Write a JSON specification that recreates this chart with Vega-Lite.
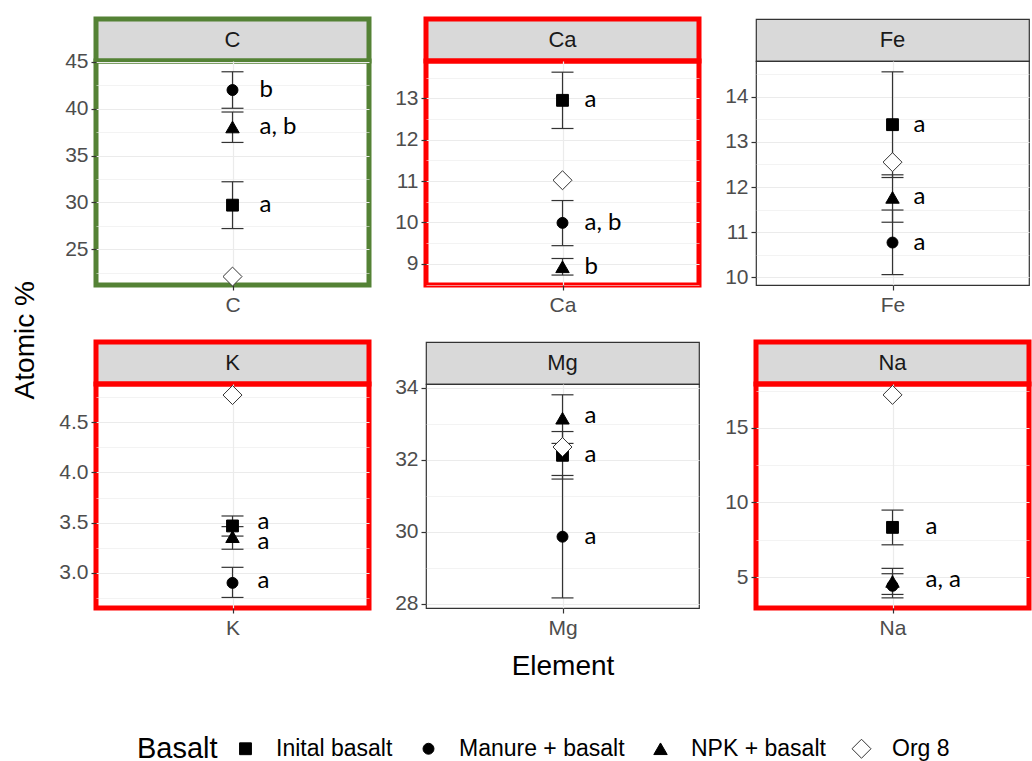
{
  "$schema": "https://vega.github.io/schema/vega-lite/v6.json",
  "padding": {"left": 12, "top": 16, "right": 0, "bottom": 0},
  "background": "white",
  "datasets": {
    "strips": [{"element": "C"}, {"element": "Ca"}, {"element": "Fe"}, {"element": "K"}, {"element": "Mg"}, {"element": "Na"}],
    "pts": [
      {"element": "C", "basalt": "Inital basalt", "mean": 29.7, "lo": 27.2, "hi": 32.2, "label": "a", "label_at": 29.7},
      {"element": "C", "basalt": "Manure + basalt", "mean": 42.0, "lo": 40.05, "hi": 43.95, "label": "b", "label_at": 42.0},
      {"element": "C", "basalt": "NPK + basalt", "mean": 38.05, "lo": 36.4, "hi": 39.65, "label": "a, b", "label_at": 38.05},
      {"element": "C", "basalt": "Org 8", "mean": 22.07, "lo": null, "hi": null, "label": "", "label_at": 22.07},
      {"element": "Ca", "basalt": "Inital basalt", "mean": 12.95, "lo": 12.27, "hi": 13.63, "label": "a", "label_at": 12.95},
      {"element": "Ca", "basalt": "Manure + basalt", "mean": 9.99, "lo": 9.44, "hi": 10.53, "label": "a, b", "label_at": 9.99},
      {"element": "Ca", "basalt": "NPK + basalt", "mean": 8.93, "lo": 8.73, "hi": 9.13, "label": "b", "label_at": 8.93},
      {"element": "Ca", "basalt": "Org 8", "mean": 11.02, "lo": null, "hi": null, "label": "", "label_at": 11.02},
      {"element": "Fe", "basalt": "Inital basalt", "mean": 13.38, "lo": 12.21, "hi": 14.55, "label": "a", "label_at": 13.38},
      {"element": "Fe", "basalt": "Manure + basalt", "mean": 10.77, "lo": 10.06, "hi": 11.49, "label": "a", "label_at": 10.77},
      {"element": "Fe", "basalt": "NPK + basalt", "mean": 11.77, "lo": 11.22, "hi": 12.27, "label": "a", "label_at": 11.77},
      {"element": "Fe", "basalt": "Org 8", "mean": 12.55, "lo": null, "hi": null, "label": "", "label_at": 12.55},
      {"element": "K", "basalt": "Inital basalt", "mean": 3.467, "lo": 3.366, "hi": 3.566, "label": "a", "label_at": 3.51},
      {"element": "K", "basalt": "Manure + basalt", "mean": 2.9, "lo": 2.755, "hi": 3.055, "label": "a", "label_at": 2.92},
      {"element": "K", "basalt": "NPK + basalt", "mean": 3.36, "lo": 3.235, "hi": 3.46, "label": "a", "label_at": 3.31},
      {"element": "K", "basalt": "Org 8", "mean": 4.77, "lo": null, "hi": null, "label": "", "label_at": 4.77},
      {"element": "Mg", "basalt": "Inital basalt", "mean": 32.12, "lo": 31.46, "hi": 32.78, "label": "a", "label_at": 32.12},
      {"element": "Mg", "basalt": "Manure + basalt", "mean": 29.86, "lo": 28.16, "hi": 31.56, "label": "a", "label_at": 29.86},
      {"element": "Mg", "basalt": "NPK + basalt", "mean": 33.15, "lo": 32.45, "hi": 33.8, "label": "a", "label_at": 33.2},
      {"element": "Mg", "basalt": "Org 8", "mean": 32.35, "lo": null, "hi": null, "label": "", "label_at": 32.35},
      {"element": "Na", "basalt": "Inital basalt", "mean": 8.33, "lo": 7.16, "hi": 9.49, "label": "a", "label_at": 8.33},
      {"element": "Na", "basalt": "Manure + basalt", "mean": 4.41, "lo": 3.6, "hi": 5.22, "label": "", "label_at": 4.41},
      {"element": "Na", "basalt": "NPK + basalt", "mean": 4.7, "lo": 3.83, "hi": 5.58, "label": "a, a", "label_at": 4.82},
      {"element": "Na", "basalt": "Org 8", "mean": 17.22, "lo": null, "hi": null, "label": "", "label_at": 17.22}
    ]
  },
  "title": {"text": "Atomic %", "orient": "left", "anchor": "middle", "dx": 50, "fontSize": 28, "fontWeight": "normal", "font": "Liberation Sans", "color": "black", "offset": 16},
  "config": {
    "font": "Liberation Sans",
    "axis": {"labelFont": "Liberation Sans", "labelFontSize": 21, "labelColor": "#4d4d4d", "labelOverlap": false, "tickColor": "#333333", "tickWidth": 1.2, "tickSize": 5, "domain": false, "gridColor": "#ebebeb", "gridWidth": 1.2, "labelPadding": 3, "titleFont": "Liberation Sans", "titleFontSize": 28, "titleFontWeight": "normal", "titleColor": "black"},
    "axisX": {"labelAngle": 0, "grid": true, "title": null, "labelPadding": 4},
    "legend": {"orient": "bottom", "direction": "horizontal", "titleOrient": "left", "titleFont": "Liberation Sans", "titleFontSize": 29, "titleFontWeight": "normal", "titleColor": "black", "labelFont": "Liberation Sans", "labelFontSize": 23, "labelColor": "black", "labelLimit": 400, "labelOffset": 19, "columnPadding": 24, "titlePadding": 16, "offset": 56, "symbolStrokeWidth": 1, "layout": {"bottom": {"anchor": "middle"}}}
  },
  "concat": [
    {
      "vconcat": [
        {"data": {"name": "strips"}, "transform": [{"filter": {"field": "element", "equal": "C"}}], "width": 273, "height": 42,
         "view": {"fill": "#d9d9d9", "stroke": "#548235", "strokeWidth": 5},
         "mark": {"type": "text", "font": "Liberation Sans", "fontSize": 22, "color": "#1a1a1a"},
         "encoding": {"text": {"field": "element", "type": "nominal"}}},
        {"data": {"name": "pts"}, "transform": [{"filter": {"field": "element", "equal": "C"}}], "width": 273, "height": 224,
         "view": {"stroke": "#548235", "strokeWidth": 5},
         "resolve": {"axis": {"y": "independent"}},
         "encoding": {"x": {"field": "element", "type": "nominal", "scale": {"type": "point"}, "title": null}},
         "layer": [
           {"mark": {"type": "rule", "color": "#333333", "strokeWidth": 1.2},
            "encoding": {"y": {"field": "lo", "type": "quantitative", "title": null, "scale": {"domain": [21.17, 45.1], "nice": false, "zero": false},
              "axis": {"orient": "left", "values": [25, 30, 35, 40, 45]}},
             "y2": {"field": "hi"}}},
           {"mark": {"type": "tick", "color": "#333333", "size": 22, "thickness": 1.2, "opacity": 1},
            "encoding": {"y": {"field": "lo", "type": "quantitative", "title": null,
              "axis": {"orient": "right", "values": [22.5, 27.5, 32.5, 37.5, 42.5], "labels": false, "ticks": false, "domain": false, "grid": true, "gridWidth": 0.6}}}},
           {"mark": {"type": "tick", "color": "#333333", "size": 22, "thickness": 1.2, "opacity": 1}, "encoding": {"y": {"field": "hi", "type": "quantitative", "title": null, "axis": null}}},
           {"mark": {"type": "point", "filled": true, "opacity": 1, "strokeWidth": 1},
            "encoding": {"y": {"field": "mean", "type": "quantitative", "title": null, "axis": null},
              "shape": {"field": "basalt", "type": "nominal", "title": "Basalt", "scale": {"domain": ["Inital basalt", "Manure + basalt", "NPK + basalt", "Org 8"], "range": ["square", "circle", "triangle-up", "diamond"]}},
              "fill": {"field": "basalt", "type": "nominal", "title": "Basalt", "scale": {"domain": ["Inital basalt", "Manure + basalt", "NPK + basalt", "Org 8"], "range": ["black", "black", "black", "white"]}},
              "stroke": {"field": "basalt", "type": "nominal", "title": "Basalt", "scale": {"domain": ["Inital basalt", "Manure + basalt", "NPK + basalt", "Org 8"], "range": ["black", "black", "black", "#333333"]}},
              "size": {"field": "basalt", "type": "nominal", "title": "Basalt", "scale": {"type": "ordinal", "domain": ["Inital basalt", "Manure + basalt", "NPK + basalt", "Org 8"], "range": [140, 120, 180, 360]}}}},
           {"mark": {"type": "text", "align": "left", "baseline": "middle", "dx": 27, "font": "Lato", "fontSize": 24, "color": "black"},
            "encoding": {"y": {"field": "label_at", "type": "quantitative", "title": null, "axis": null}, "text": {"field": "label", "type": "nominal"}}}
         ]}
      ],
      "spacing": 0, "bounds": "flush"
    },
    {
      "vconcat": [
        {"data": {"name": "strips"}, "transform": [{"filter": {"field": "element", "equal": "Ca"}}], "width": 273, "height": 42,
         "view": {"fill": "#d9d9d9", "stroke": "#ff0000", "strokeWidth": 5},
         "mark": {"type": "text", "font": "Liberation Sans", "fontSize": 22, "color": "#1a1a1a"},
         "encoding": {"text": {"field": "element", "type": "nominal"}}},
        {"data": {"name": "pts"}, "transform": [{"filter": {"field": "element", "equal": "Ca"}}], "width": 273, "height": 224,
         "view": {"stroke": "#ff0000", "strokeWidth": 5},
         "resolve": {"axis": {"y": "independent"}},
         "encoding": {"x": {"field": "element", "type": "nominal", "scale": {"type": "point"}, "title": null}},
         "layer": [
           {"mark": {"type": "rule", "color": "#333333", "strokeWidth": 1.2},
            "encoding": {"y": {"field": "lo", "type": "quantitative", "title": null, "scale": {"domain": [8.49, 13.9], "nice": false, "zero": false},
              "axis": {"orient": "left", "values": [9, 10, 11, 12, 13]}},
             "y2": {"field": "hi"}}},
           {"mark": {"type": "tick", "color": "#333333", "size": 22, "thickness": 1.2, "opacity": 1},
            "encoding": {"y": {"field": "lo", "type": "quantitative", "title": null,
              "axis": {"orient": "right", "values": [8.5, 9.5, 10.5, 11.5, 12.5, 13.5], "labels": false, "ticks": false, "domain": false, "grid": true, "gridWidth": 0.6}}}},
           {"mark": {"type": "tick", "color": "#333333", "size": 22, "thickness": 1.2, "opacity": 1}, "encoding": {"y": {"field": "hi", "type": "quantitative", "title": null, "axis": null}}},
           {"mark": {"type": "point", "filled": true, "opacity": 1, "strokeWidth": 1},
            "encoding": {"y": {"field": "mean", "type": "quantitative", "title": null, "axis": null},
              "shape": {"field": "basalt", "type": "nominal", "title": "Basalt", "scale": {"domain": ["Inital basalt", "Manure + basalt", "NPK + basalt", "Org 8"], "range": ["square", "circle", "triangle-up", "diamond"]}},
              "fill": {"field": "basalt", "type": "nominal", "title": "Basalt", "scale": {"domain": ["Inital basalt", "Manure + basalt", "NPK + basalt", "Org 8"], "range": ["black", "black", "black", "white"]}},
              "stroke": {"field": "basalt", "type": "nominal", "title": "Basalt", "scale": {"domain": ["Inital basalt", "Manure + basalt", "NPK + basalt", "Org 8"], "range": ["black", "black", "black", "#333333"]}},
              "size": {"field": "basalt", "type": "nominal", "title": "Basalt", "scale": {"type": "ordinal", "domain": ["Inital basalt", "Manure + basalt", "NPK + basalt", "Org 8"], "range": [140, 120, 180, 360]}}}},
           {"mark": {"type": "text", "align": "left", "baseline": "middle", "dx": 22, "font": "Lato", "fontSize": 24, "color": "black"},
            "encoding": {"y": {"field": "label_at", "type": "quantitative", "title": null, "axis": null}, "text": {"field": "label", "type": "nominal"}}}
         ]}
      ],
      "spacing": 0, "bounds": "flush"
    },
    {
      "vconcat": [
        {"data": {"name": "strips"}, "transform": [{"filter": {"field": "element", "equal": "Fe"}}], "width": 273, "height": 42,
         "view": {"fill": "#d9d9d9", "stroke": "#333333", "strokeWidth": 1.2},
         "mark": {"type": "text", "font": "Liberation Sans", "fontSize": 22, "color": "#1a1a1a"},
         "encoding": {"text": {"field": "element", "type": "nominal"}}},
        {"data": {"name": "pts"}, "transform": [{"filter": {"field": "element", "equal": "Fe"}}], "width": 273, "height": 224,
         "view": {"stroke": "#333333", "strokeWidth": 1.2},
         "resolve": {"axis": {"y": "independent"}},
         "encoding": {"x": {"field": "element", "type": "nominal", "scale": {"type": "point"}, "title": null}},
         "layer": [
           {"mark": {"type": "rule", "color": "#333333", "strokeWidth": 1.2},
            "encoding": {"y": {"field": "lo", "type": "quantitative", "title": null, "scale": {"domain": [9.83, 14.79], "nice": false, "zero": false},
              "axis": {"orient": "left", "values": [10, 11, 12, 13, 14]}},
             "y2": {"field": "hi"}}},
           {"mark": {"type": "tick", "color": "#333333", "size": 22, "thickness": 1.2, "opacity": 1},
            "encoding": {"y": {"field": "lo", "type": "quantitative", "title": null,
              "axis": {"orient": "right", "values": [10.5, 11.5, 12.5, 13.5, 14.5], "labels": false, "ticks": false, "domain": false, "grid": true, "gridWidth": 0.6}}}},
           {"mark": {"type": "tick", "color": "#333333", "size": 22, "thickness": 1.2, "opacity": 1}, "encoding": {"y": {"field": "hi", "type": "quantitative", "title": null, "axis": null}}},
           {"mark": {"type": "point", "filled": true, "opacity": 1, "strokeWidth": 1},
            "encoding": {"y": {"field": "mean", "type": "quantitative", "title": null, "axis": null},
              "shape": {"field": "basalt", "type": "nominal", "title": "Basalt", "scale": {"domain": ["Inital basalt", "Manure + basalt", "NPK + basalt", "Org 8"], "range": ["square", "circle", "triangle-up", "diamond"]}},
              "fill": {"field": "basalt", "type": "nominal", "title": "Basalt", "scale": {"domain": ["Inital basalt", "Manure + basalt", "NPK + basalt", "Org 8"], "range": ["black", "black", "black", "white"]}},
              "stroke": {"field": "basalt", "type": "nominal", "title": "Basalt", "scale": {"domain": ["Inital basalt", "Manure + basalt", "NPK + basalt", "Org 8"], "range": ["black", "black", "black", "#333333"]}},
              "size": {"field": "basalt", "type": "nominal", "title": "Basalt", "scale": {"type": "ordinal", "domain": ["Inital basalt", "Manure + basalt", "NPK + basalt", "Org 8"], "range": [140, 120, 180, 360]}}}},
           {"mark": {"type": "text", "align": "left", "baseline": "middle", "dx": 21, "font": "Lato", "fontSize": 24, "color": "black"},
            "encoding": {"y": {"field": "label_at", "type": "quantitative", "title": null, "axis": null}, "text": {"field": "label", "type": "nominal"}}}
         ]}
      ],
      "spacing": 0, "bounds": "flush"
    },
    {
      "vconcat": [
        {"data": {"name": "strips"}, "transform": [{"filter": {"field": "element", "equal": "K"}}], "width": 273, "height": 42,
         "view": {"fill": "#d9d9d9", "stroke": "#ff0000", "strokeWidth": 5},
         "mark": {"type": "text", "font": "Liberation Sans", "fontSize": 22, "color": "#1a1a1a"},
         "encoding": {"text": {"field": "element", "type": "nominal"}}},
        {"data": {"name": "pts"}, "transform": [{"filter": {"field": "element", "equal": "K"}}], "width": 273, "height": 224,
         "view": {"stroke": "#ff0000", "strokeWidth": 5},
         "resolve": {"axis": {"y": "independent"}},
         "encoding": {"x": {"field": "element", "type": "nominal", "scale": {"type": "point"}, "title": null}},
         "layer": [
           {"mark": {"type": "rule", "color": "#333333", "strokeWidth": 1.2},
            "encoding": {"y": {"field": "lo", "type": "quantitative", "title": null, "scale": {"domain": [2.65, 4.88], "nice": false, "zero": false},
              "axis": {"orient": "left", "values": [3, 3.5, 4, 4.5], "format": ".1f"}},
             "y2": {"field": "hi"}}},
           {"mark": {"type": "tick", "color": "#333333", "size": 22, "thickness": 1.2, "opacity": 1},
            "encoding": {"y": {"field": "lo", "type": "quantitative", "title": null,
              "axis": {"orient": "right", "values": [2.75, 3.25, 3.75, 4.25, 4.75], "labels": false, "ticks": false, "domain": false, "grid": true, "gridWidth": 0.6}}}},
           {"mark": {"type": "tick", "color": "#333333", "size": 22, "thickness": 1.2, "opacity": 1}, "encoding": {"y": {"field": "hi", "type": "quantitative", "title": null, "axis": null}}},
           {"mark": {"type": "point", "filled": true, "opacity": 1, "strokeWidth": 1},
            "encoding": {"y": {"field": "mean", "type": "quantitative", "title": null, "axis": null},
              "shape": {"field": "basalt", "type": "nominal", "title": "Basalt", "scale": {"domain": ["Inital basalt", "Manure + basalt", "NPK + basalt", "Org 8"], "range": ["square", "circle", "triangle-up", "diamond"]}},
              "fill": {"field": "basalt", "type": "nominal", "title": "Basalt", "scale": {"domain": ["Inital basalt", "Manure + basalt", "NPK + basalt", "Org 8"], "range": ["black", "black", "black", "white"]}},
              "stroke": {"field": "basalt", "type": "nominal", "title": "Basalt", "scale": {"domain": ["Inital basalt", "Manure + basalt", "NPK + basalt", "Org 8"], "range": ["black", "black", "black", "#333333"]}},
              "size": {"field": "basalt", "type": "nominal", "title": "Basalt", "scale": {"type": "ordinal", "domain": ["Inital basalt", "Manure + basalt", "NPK + basalt", "Org 8"], "range": [140, 120, 180, 360]}}}},
           {"mark": {"type": "text", "align": "left", "baseline": "middle", "dx": 25, "font": "Lato", "fontSize": 24, "color": "black"},
            "encoding": {"y": {"field": "label_at", "type": "quantitative", "title": null, "axis": null}, "text": {"field": "label", "type": "nominal"}}}
         ]}
      ],
      "spacing": 0, "bounds": "flush"
    },
    {
      "vconcat": [
        {"data": {"name": "strips"}, "transform": [{"filter": {"field": "element", "equal": "Mg"}}], "width": 273, "height": 42,
         "view": {"fill": "#d9d9d9", "stroke": "#333333", "strokeWidth": 1.2},
         "mark": {"type": "text", "font": "Liberation Sans", "fontSize": 22, "color": "#1a1a1a"},
         "encoding": {"text": {"field": "element", "type": "nominal"}}},
        {"data": {"name": "pts"}, "transform": [{"filter": {"field": "element", "equal": "Mg"}}], "width": 273, "height": 224,
         "view": {"stroke": "#333333", "strokeWidth": 1.2},
         "resolve": {"axis": {"y": "independent"}},
         "encoding": {"x": {"field": "element", "type": "nominal", "scale": {"type": "point"}, "title": "Element", "axis": {"title": "Element", "titlePadding": 14}}},
         "layer": [
           {"mark": {"type": "rule", "color": "#333333", "strokeWidth": 1.2},
            "encoding": {"y": {"field": "lo", "type": "quantitative", "title": null, "scale": {"domain": [27.88, 34.1], "nice": false, "zero": false},
              "axis": {"orient": "left", "values": [28, 30, 32, 34]}},
             "y2": {"field": "hi"}}},
           {"mark": {"type": "tick", "color": "#333333", "size": 22, "thickness": 1.2, "opacity": 1},
            "encoding": {"y": {"field": "lo", "type": "quantitative", "title": null,
              "axis": {"orient": "right", "values": [29, 31, 33], "labels": false, "ticks": false, "domain": false, "grid": true, "gridWidth": 0.6}}}},
           {"mark": {"type": "tick", "color": "#333333", "size": 22, "thickness": 1.2, "opacity": 1}, "encoding": {"y": {"field": "hi", "type": "quantitative", "title": null, "axis": null}}},
           {"mark": {"type": "point", "filled": true, "opacity": 1, "strokeWidth": 1},
            "encoding": {"y": {"field": "mean", "type": "quantitative", "title": null, "axis": null},
              "shape": {"field": "basalt", "type": "nominal", "title": "Basalt", "scale": {"domain": ["Inital basalt", "Manure + basalt", "NPK + basalt", "Org 8"], "range": ["square", "circle", "triangle-up", "diamond"]}},
              "fill": {"field": "basalt", "type": "nominal", "title": "Basalt", "scale": {"domain": ["Inital basalt", "Manure + basalt", "NPK + basalt", "Org 8"], "range": ["black", "black", "black", "white"]}},
              "stroke": {"field": "basalt", "type": "nominal", "title": "Basalt", "scale": {"domain": ["Inital basalt", "Manure + basalt", "NPK + basalt", "Org 8"], "range": ["black", "black", "black", "#333333"]}},
              "size": {"field": "basalt", "type": "nominal", "title": "Basalt", "scale": {"type": "ordinal", "domain": ["Inital basalt", "Manure + basalt", "NPK + basalt", "Org 8"], "range": [140, 120, 180, 360]}}}},
           {"mark": {"type": "text", "align": "left", "baseline": "middle", "dx": 22, "font": "Lato", "fontSize": 24, "color": "black"},
            "encoding": {"y": {"field": "label_at", "type": "quantitative", "title": null, "axis": null}, "text": {"field": "label", "type": "nominal"}}}
         ]}
      ],
      "spacing": 0, "bounds": "flush"
    },
    {
      "vconcat": [
        {"data": {"name": "strips"}, "transform": [{"filter": {"field": "element", "equal": "Na"}}], "width": 273, "height": 42,
         "view": {"fill": "#d9d9d9", "stroke": "#ff0000", "strokeWidth": 5},
         "mark": {"type": "text", "font": "Liberation Sans", "fontSize": 22, "color": "#1a1a1a"},
         "encoding": {"text": {"field": "element", "type": "nominal"}}},
        {"data": {"name": "pts"}, "transform": [{"filter": {"field": "element", "equal": "Na"}}], "width": 273, "height": 224,
         "view": {"stroke": "#ff0000", "strokeWidth": 5},
         "resolve": {"axis": {"y": "independent"}},
         "encoding": {"x": {"field": "element", "type": "nominal", "scale": {"type": "point"}, "title": null}},
         "layer": [
           {"mark": {"type": "rule", "color": "#333333", "strokeWidth": 1.2},
            "encoding": {"y": {"field": "lo", "type": "quantitative", "title": null, "scale": {"domain": [2.92, 17.95], "nice": false, "zero": false},
              "axis": {"orient": "left", "values": [5, 10, 15]}},
             "y2": {"field": "hi"}}},
           {"mark": {"type": "tick", "color": "#333333", "size": 22, "thickness": 1.2, "opacity": 1},
            "encoding": {"y": {"field": "lo", "type": "quantitative", "title": null,
              "axis": {"orient": "right", "values": [7.5, 12.5, 17.5], "labels": false, "ticks": false, "domain": false, "grid": true, "gridWidth": 0.6}}}},
           {"mark": {"type": "tick", "color": "#333333", "size": 22, "thickness": 1.2, "opacity": 1}, "encoding": {"y": {"field": "hi", "type": "quantitative", "title": null, "axis": null}}},
           {"mark": {"type": "point", "filled": true, "opacity": 1, "strokeWidth": 1},
            "encoding": {"y": {"field": "mean", "type": "quantitative", "title": null, "axis": null},
              "shape": {"field": "basalt", "type": "nominal", "title": "Basalt", "scale": {"domain": ["Inital basalt", "Manure + basalt", "NPK + basalt", "Org 8"], "range": ["square", "circle", "triangle-up", "diamond"]}},
              "fill": {"field": "basalt", "type": "nominal", "title": "Basalt", "scale": {"domain": ["Inital basalt", "Manure + basalt", "NPK + basalt", "Org 8"], "range": ["black", "black", "black", "white"]}},
              "stroke": {"field": "basalt", "type": "nominal", "title": "Basalt", "scale": {"domain": ["Inital basalt", "Manure + basalt", "NPK + basalt", "Org 8"], "range": ["black", "black", "black", "#333333"]}},
              "size": {"field": "basalt", "type": "nominal", "title": "Basalt", "scale": {"type": "ordinal", "domain": ["Inital basalt", "Manure + basalt", "NPK + basalt", "Org 8"], "range": [140, 120, 180, 360]}}}},
           {"mark": {"type": "text", "align": "left", "baseline": "middle", "dx": 33, "font": "Lato", "fontSize": 24, "color": "black"},
            "encoding": {"y": {"field": "label_at", "type": "quantitative", "title": null, "axis": null}, "text": {"field": "label", "type": "nominal"}}}
         ]}
      ],
      "spacing": 0, "bounds": "flush"
    }
  ],
  "columns": 3,
  "spacing": {"row": 21, "column": 20},
  "align": "each"
}
